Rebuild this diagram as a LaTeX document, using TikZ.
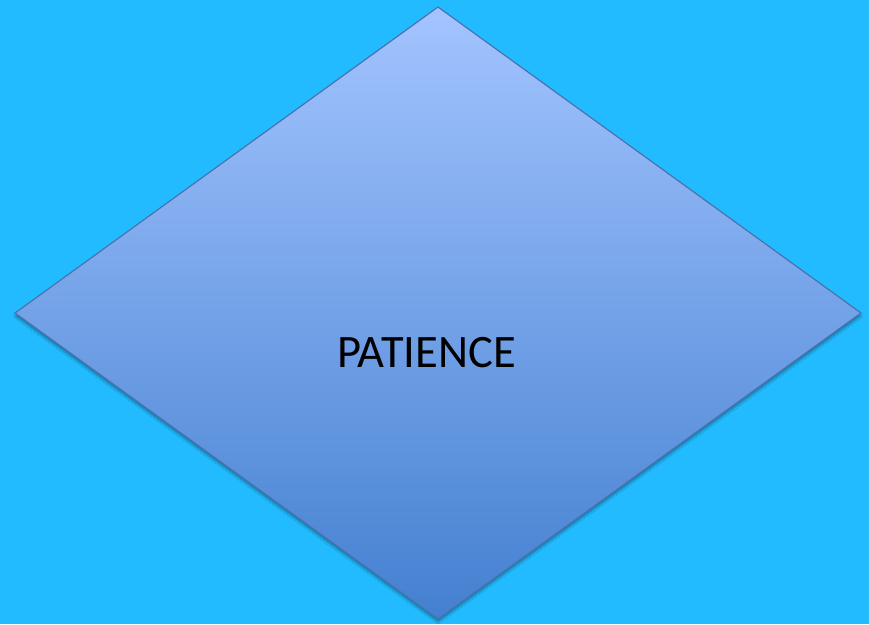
\documentclass[tikz,border=0pt]{standalone}
\usepackage{fontspec}
\setmainfont{Carlito}
\usetikzlibrary{shadows.blur}
\definecolor{bg}{HTML}{22BBFF}
\definecolor{gtop}{HTML}{A3C4FF}
\definecolor{gbot}{HTML}{4480D0}
\definecolor{edge}{HTML}{4A72B0}
\tikzset{
  decision/.style={draw=edge, line width=1.2pt, top color=gtop, bottom color=gbot, line join=miter,
    blur shadow={shadow xshift=0pt, shadow yshift=-3pt, shadow blur steps=6, shadow opacity=35}},
  label/.style={font=\fontsize{46.5}{50}\selectfont, text=black, anchor=base, inner sep=0pt}
}
\begin{document}
\begin{tikzpicture}[x=1pt,y=-1pt]
\fill[bg] (0,0) rectangle (869,624);
\useasboundingbox (0,0) rectangle (869,624);
\path[decision] (438,7) -- (861,313) -- (438,619) -- (15,313) -- cycle;
\node[label] (t) at (426.5,367) {PATIENCE};
\end{tikzpicture}
\end{document}
